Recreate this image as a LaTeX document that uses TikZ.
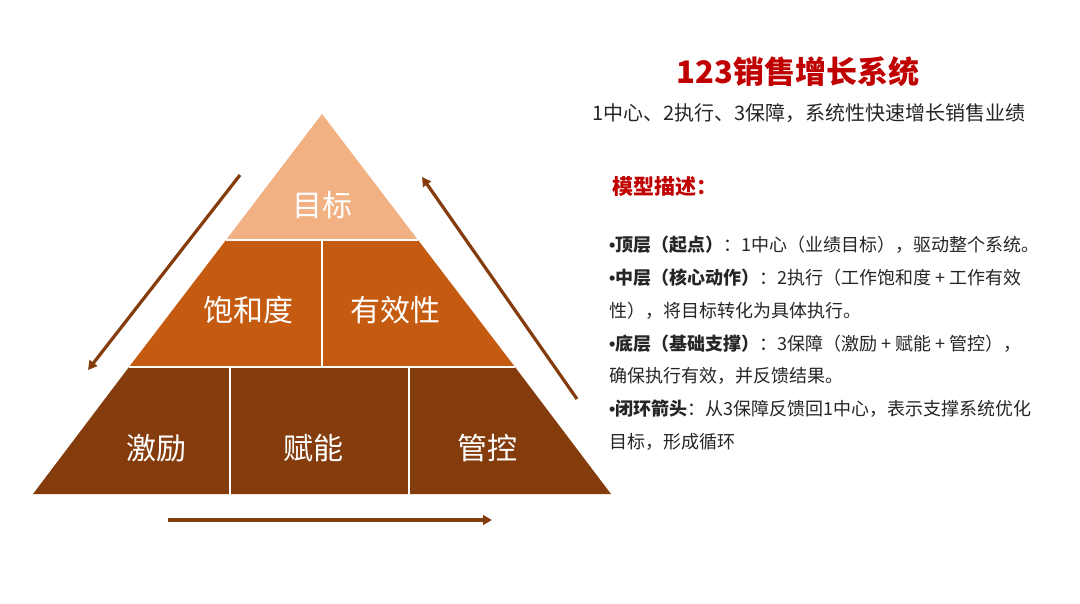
\documentclass[tikz,border=0pt]{standalone}
\usepackage{fontspec}
\setmainfont{Noto Sans CJK SC}
\newfontfamily\dotfont{Liberation Sans}
\usetikzlibrary{arrows.meta}

\definecolor{topfill}{RGB}{241,177,131}
\definecolor{midfill}{RGB}{197,90,17}
\definecolor{lowfill}{RGB}{132,60,12}
\definecolor{titlered}{RGB}{192,0,0}
\definecolor{bodytext}{RGB}{38,38,38}

\newcommand\dotmark{{\dotfont\bfseries •}}

\tikzset{
  tier label/.style={text=white, inner sep=0pt, font=\fontsize{30}{36}\selectfont},
  loop arrow/.style={draw=lowfill, line width=3.2pt, -{Triangle[length=9pt,width=9.5pt]}},
  split/.style={draw=white, line width=1.2pt},
  desc/.style={anchor=west, inner sep=0pt, text=bodytext, font=\fontsize{18}{22}\selectfont},
}

\begin{document}
\begin{tikzpicture}[x=1pt, y=-1pt]
    \fill[white](0,0) rectangle (1080,603);
    % pyramid
    \fill[topfill](322,114)--(418,240)--(226,240)--cycle;
    \fill[midfill](226,240)--(418,240)--(515,367)--(129,367)--cycle;
    \fill[lowfill](129,367)--(515,367)--(611,494)--(33,494)--cycle;
    \draw[split](226,240)--(418,240) (129,367)--(515,367)
        (322,240)--(322,367) (230,367)--(230,494) (409,367)--(409,494);
    \node[tier label] (goal) at (322,205) {目标};
    \node[tier label] (load) at (248,310) {饱和度};
    \node[tier label] (effect) at (395,310) {有效性};
    \node[tier label] (spur) at (156,448) {激励};
    \node[tier label] (enable) at (313,448) {赋能};
    \node[tier label] (control) at (487,448) {管控};
    % loop arrows
    \coordinate (down top) at (240,175);
    \coordinate (down tip) at (88,370);
    \coordinate (base tail) at (168,520);
    \coordinate (base tip) at (492,520);
    \coordinate (up tail) at (577,399);
    \coordinate (up tip) at (422,177);
    \draw[loop arrow](down top)--(down tip);
    \draw[loop arrow](base tail)--(base tip);
    \draw[loop arrow](up tail)--(up tip);
    % texts
    \node[text=titlered, font=\bfseries\fontsize{31}{36}\selectfont] (title) at (798,72) {123销售增长系统};
    \node[text=bodytext, font=\fontsize{20}{24}\selectfont] (subtitle) at (809,113) {1中心、2执行、3保障，系统性快速增长销售业绩};
    \node[anchor=west, inner sep=0pt, text=titlered, font=\bfseries\fontsize{21}{24}\selectfont] (model) at (612,187) {模型描述：};
    \foreach \t [count=\i] in {
        {\dotmark\textbf{顶层（起点）}：1中心（业绩目标），驱动整个系统。},
        {\dotmark\textbf{中层（核心动作）}：2执行（工作饱和度 + 工作有效},
        {性），将目标转化为具体执行。},
        {\dotmark\textbf{底层（基础支撑）}：3保障（激励 + 赋能 + 管控），},
        {确保执行有效，并反馈结果。},
        {\dotmark\textbf{闭环箭头}：从3保障反馈回1中心，表示支撑系统优化},
        {目标，形成循环}}
        \node[desc] (line\i) at (609,{245+(\i-1)*32.8}) {\t};
\end{tikzpicture}
\end{document}
